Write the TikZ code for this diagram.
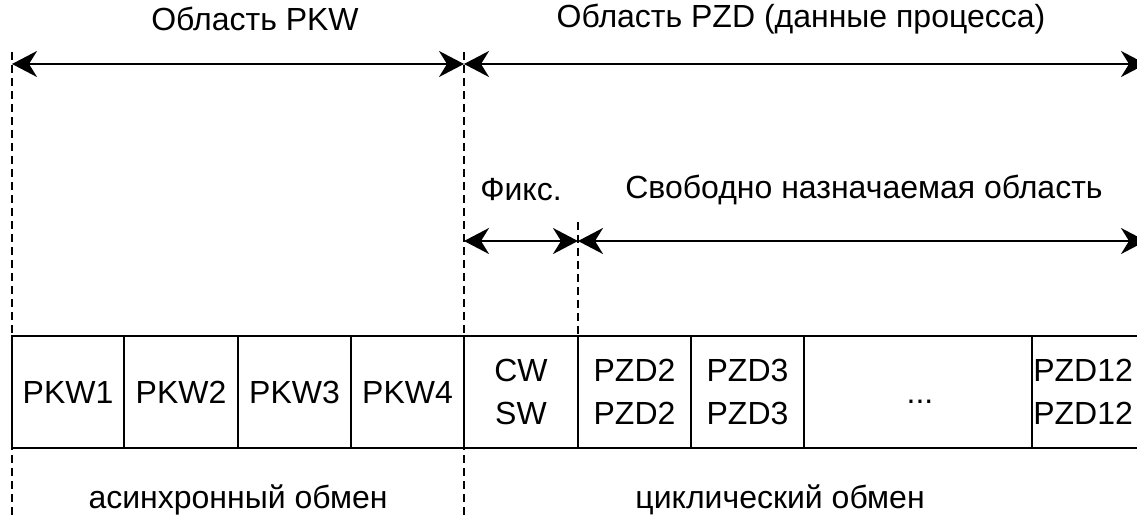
\documentclass[tikz,border=0pt]{standalone}
\usepackage{fontspec}
\setmainfont{Liberation Sans}
\usetikzlibrary{arrows.meta}
\begin{document}
\begin{tikzpicture}[x=1pt,y=-1pt,
  every node/.style={font=\fontsize{32}{43}\selectfont, inner sep=0pt},
  cell/.style={draw, line width=1.8pt, minimum height=112pt, anchor=center},
  dim/.style={line width=2pt, {Stealth[length=25pt,width=26pt,inset=8pt]}-{Stealth[length=25pt,width=26pt,inset=8pt]}},
  guide/.style={line width=1.6pt, dash pattern=on 8pt off 5pt}]
\useasboundingbox (0,0) rectangle (1137,517);
\clip (0,0) rectangle (1137,517);
% guide coordinates
\coordinate (g1t) at (12,52);   \coordinate (g1b) at (12,517);
\coordinate (g2t) at (464,52);  \coordinate (g2b) at (464,517);
\coordinate (g3t) at (578,222); \coordinate (g3b) at (578,336);
\coordinate (a1) at (12,64); \coordinate (a2) at (464,64); \coordinate (a3) at (1146,64);
\coordinate (b1) at (464,241); \coordinate (b2) at (578,241); \coordinate (b3) at (1146,241);
% dashed guides
\draw[guide] (g1t) -- (g1b);
\draw[guide] (g2t) -- (g2b);
\draw[guide] (g3t) -- (g3b);
% dimension arrows
\draw[dim] (a1) -- (a2);
\draw[dim] (a2) -- (a3);
\draw[dim] (b1) -- (b2);
\draw[dim] (b2) -- (b3);
% labels
\node (lpkw) at (255,19) {Область PKW};
\node (lpzd) at (801,19) {Область PZD (данные процесса)};
\node (lfix) at (521,190) {Фикс.};
\node (lfree) at (864,190) {Свободно назначаемая область};
\node (lasync) at (238,500) {асинхронный обмен};
\node (lcyc) at (780,500) {циклический обмен};
% cells
\node[cell, minimum width=112pt] (pkw1) at (68,392) {PKW1};
\node[cell, minimum width=114pt] (pkw2) at (181,392) {PKW2};
\node[cell, minimum width=113pt] (pkw3) at (294.5,392) {PKW3};
\node[cell, minimum width=113pt] (pkw4) at (407.5,392) {PKW4};
\node[cell, minimum width=114pt, align=center] (cw) at (521,392) {CW\\SW};
\node[cell, minimum width=113pt, align=center] (pzd2) at (634.5,392) {PZD2\\PZD2};
\node[cell, minimum width=113pt, align=center] (pzd3) at (747.5,392) {PZD3\\PZD3};
\node[cell, minimum width=228pt] (dots) at (918,392) {};
\node (dotstxt) at (920,402) {...};
\node[cell, minimum width=128pt] (pzd12) at (1096,392) {};
\node[anchor=west, align=left] (pzd12txt) at ([xshift=2pt]pzd12.west) {PZD12\\PZD12};
\end{tikzpicture}
\end{document}
